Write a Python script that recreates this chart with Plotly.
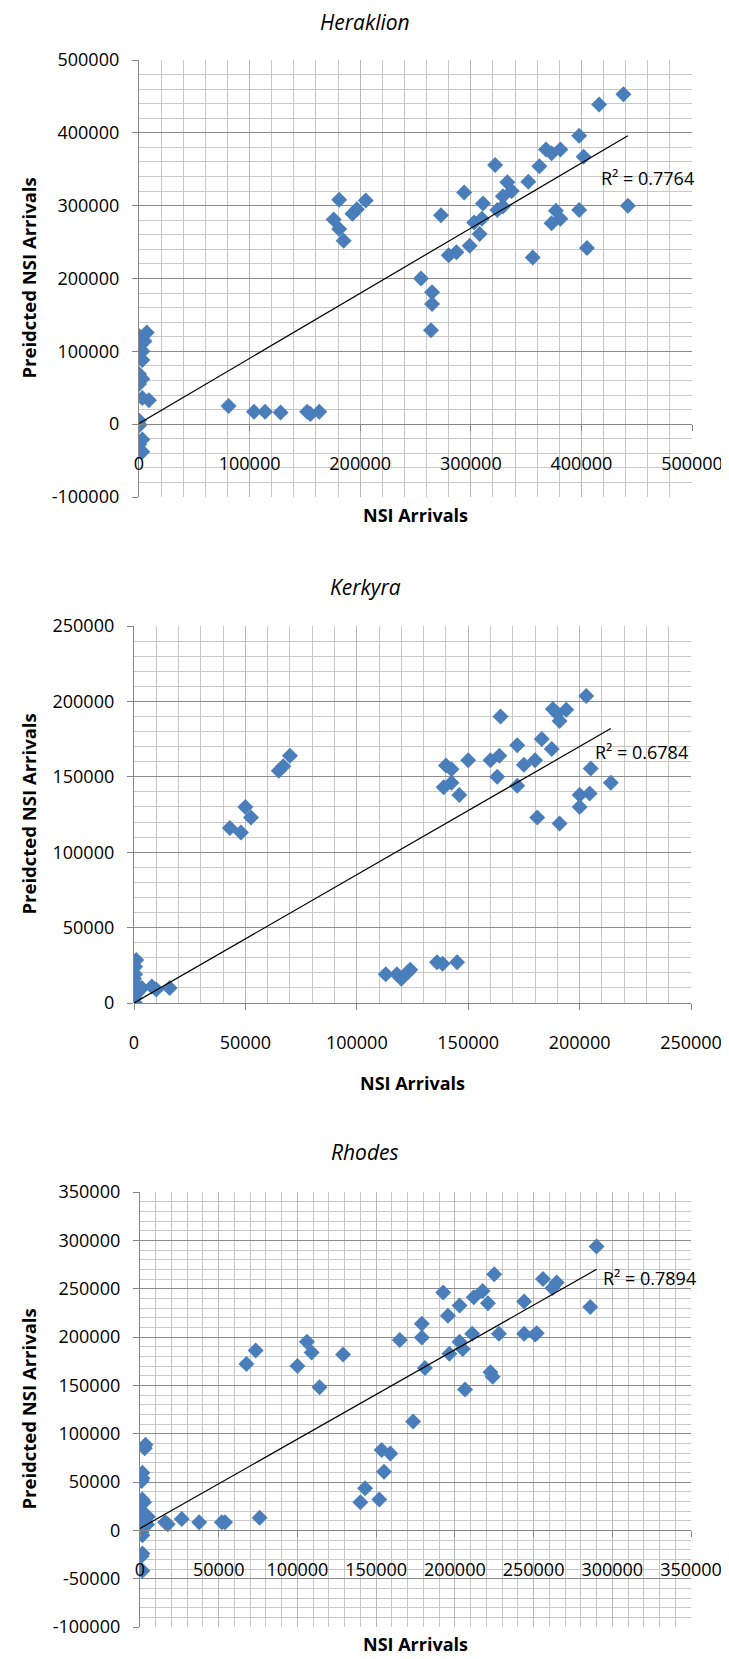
import plotly.graph_objects as go

W, H = 729, 1659
OFF = 8  # the page body adds an 8px offset to the figure

# ---------------- data ----------------
# Heraklion
her_x = [0, 7000, 0, 5000, 3000, 3000, 0, 3000, 0, 3000, 9000, 0, 0, 3000, 0, 3000, 0,
         81000, 104000, 114000, 128000, 152000, 155000, 163000,
         181000, 176000, 181000, 185000, 193000, 197000, 205000,
         255000, 265000, 265000, 264000,
         273000, 280000, 287000, 294000, 299000, 303000, 308000, 310000, 311000, 322000,
         324000, 329000, 329000, 333000, 337000, 352000, 356000, 362000, 368000, 373000,
         373000, 377000, 381000, 381000, 398000, 398000, 402000, 405000, 416000, 438000, 442000]
her_y = [121000, 126000, 116000, 114000, 100000, 88000, 69000, 62000, 55000, 36000, 33000,
         5000, -2000, -21000, -28000, -38000, 0,
         25000, 17000, 17000, 16000, 17000, 14000, 17000,
         308000, 281000, 268000, 252000, 289000, 295000, 307000,
         200000, 181000, 165000, 129000,
         287000, 232000, 236000, 318000, 245000, 277000, 261000, 282000, 303000, 356000,
         294000, 299000, 313000, 332000, 320000, 333000, 229000, 354000, 377000, 372000,
         276000, 293000, 282000, 377000, 396000, 294000, 367000, 242000, 439000, 453000, 300000]
her_trend_x = [0, 442000]
her_trend_y = [1000, 396000]
her_r2 = "R² = 0.7764"

# Kerkyra
ker_x = [1000, 500, 500, 0, 500, 0, 1500, 500, 500, 3500, 8000, 10000, 16000,
         43000, 48000, 50000, 52500, 65000, 67000, 70000,
         113000, 118000, 120000, 123000, 124000, 136000, 138500, 145000,
         139000, 140000, 142500, 142500, 146000, 150000, 160000, 163000, 164000, 164500,
         172000, 172000, 175000, 180000, 181000, 183000, 187500, 188000, 190000, 191000,
         191000, 194000, 200000, 200000, 203000, 204500, 205000, 214000]
ker_y = [28500, 24000, 19000, 16000, 12500, 9000, 7000, 3400, 0, 10000, 11000, 9000, 10000,
         116000, 113000, 130000, 123000, 154000, 157000, 164000,
         19000, 19000, 16000, 20500, 22000, 27000, 26000, 27000,
         143000, 157500, 155000, 146000, 138000, 161000, 161000, 150000, 164000, 190000,
         171000, 144000, 158000, 161000, 123000, 175000, 168500, 195000, 192000, 187000,
         119000, 194500, 130000, 138000, 203500, 139000, 155500, 146000]
ker_trend_x = [0, 214000]
ker_trend_y = [0, 182000]
ker_r2 = "R² = 0.6784"

# Rhodes
rho_x = [3500, 3000, 1500, 1500, 1000, 1500, 2500, 0, 1500, 5000, 0, 4500, 0, 1000, 1500,
         1500, 1000, 1500,
         16000, 17600, 26500, 37600, 52000, 54000, 76000,
         67600, 73500, 100000, 106000, 109000, 114000, 129000,
         140000, 143000, 152000, 153500, 155000, 159000, 173500,
         165000, 179000, 179000, 181000, 192600, 195600, 196500, 203000, 203000, 205000,
         206500, 211000, 212000, 217600, 221000, 222600, 224000, 225000, 228000, 244000,
         244000, 251000, 252000, 256000, 262000, 264700, 286000, 290000]
rho_y = [88600, 85000, 59500, 54000, 51000, 32000, 29000, 22000, 16000, 14000, 10000, 6000,
         3000, -2000, -5000, -24000, -26500, -41700,
         8300, 6400, 11700, 8300, 8300, 8300, 12900,
         172000, 186000, 170000, 195000, 184000, 148000, 182000,
         29000, 43500, 32000, 83000, 60600, 79500, 112500,
         197000, 213600, 199600, 168000, 246000, 222000, 182600, 232600, 195000, 187500,
         145800, 203400, 241000, 247700, 234800, 163600, 159000, 264800, 203400, 236700,
         203400, 202700, 204000, 260000, 250700, 256400, 231000, 293600]
rho_trend_x = [0, 290000]
rho_trend_y = [2000, 270000]
rho_r2 = "R² = 0.7894"

titles = ["Heraklion", "Kerkyra", "Rhodes"]
x_title = "NSI Arrivals"
y_title = "Preidcted NSI Arrivals"

her_xticks = [0, 100000, 200000, 300000, 400000, 500000]
her_yticks = [-100000, 0, 100000, 200000, 300000, 400000, 500000]
ker_xticks = [0, 50000, 100000, 150000, 200000, 250000]
ker_yticks = [0, 50000, 100000, 150000, 200000, 250000]
rho_xticks = [0, 50000, 100000, 150000, 200000, 250000, 300000, 350000]
rho_yticks = [-100000, -50000, 0, 50000, 100000, 150000, 200000, 250000, 300000, 350000]

# ---------------- styling ----------------
MARKER = "#4A7EBB"
YMAJOR = "#8C8C8C"
XMAJOR = "#B8B8B8"
MINOR = "#C8C8C8"
AXIS = "#868686"
FONT = "Open Sans, Noto Sans, Arial, sans-serif"

# plot boxes in screen pixels: left, right, top, bottom
charts = [
    dict(x=her_x, y=her_y, tx=her_trend_x, ty=her_trend_y, r2=her_r2, r2pos=(416000, 338000),
         box=(139, 692, 60, 497), xr=[0, 500000], yr=[-100000, 500000],
         xt=her_xticks, yt=her_yticks, xminor=20000, yminor=20000,
         title_y=22, xtitle_y=515),
    dict(x=ker_x, y=ker_y, tx=ker_trend_x, ty=ker_trend_y, r2=ker_r2, r2pos=(206000, 166700),
         box=(134, 691, 626, 1003), xr=[0, 250000], yr=[0, 250000],
         xt=ker_xticks, yt=ker_yticks, xminor=10000, yminor=10000,
         title_y=587, xtitle_y=1083),
    dict(x=rho_x, y=rho_y, tx=rho_trend_x, ty=rho_trend_y, r2=rho_r2, r2pos=(293000, 261000),
         box=(140, 691, 1192, 1627), xr=[0, 350000], yr=[-100000, 350000],
         xt=rho_xticks, yt=rho_yticks, xminor=10000, yminor=10000,
         title_y=1152, xtitle_y=1644),
]


def px_x(v):
    return (v - OFF) / W


def px_y(v):
    return 1 - (v - OFF) / H


fig = go.Figure()
annotations = []
layout = {}

for i, c in enumerate(charts):
    n = "" if i == 0 else str(i + 1)
    xa, ya = "x" + n, "y" + n
    l, r, t, b = c["box"]
    ydom = [px_y(b), px_y(t)]
    xdom = [px_x(l), px_x(r)]
    y0_px = t + (c["yr"][1] - 0) / (c["yr"][1] - c["yr"][0]) * (b - t)

    fig.add_trace(go.Scatter(x=c["x"], y=c["y"], mode="markers", xaxis=xa, yaxis=ya,
                             marker=dict(symbol="diamond", size=12.3, color=MARKER,
                                         line=dict(width=0)),
                             hoverinfo="x+y"))
    fig.add_trace(go.Scatter(x=c["tx"], y=c["ty"], mode="lines", xaxis=xa, yaxis=ya,
                             line=dict(color="black", width=1.2), hoverinfo="skip"))

    layout["xaxis" + n] = dict(
        domain=xdom, range=c["xr"], anchor="free", position=px_y(y0_px),
        tickmode="array", tickvals=c["xt"], ticktext=[str(v) for v in c["xt"]],
        showgrid=True, gridcolor=XMAJOR, gridwidth=1,
        minor=dict(tickmode="linear", tick0=0, dtick=c["xminor"], showgrid=True,
                   gridcolor=MINOR, gridwidth=1, ticks=""),
        showline=True, linecolor=AXIS, linewidth=1.3,
        ticks="outside", ticklen=6, tickcolor=AXIS, tickwidth=1.3,
        tickfont=dict(size=18, color="black", family=FONT),
        ticklabelstandoff=17, zeroline=False, fixedrange=True, automargin=False,
    )
    layout["yaxis" + n] = dict(
        domain=ydom, range=c["yr"], anchor=xa,
        tickmode="array", tickvals=c["yt"], ticktext=[str(v) for v in c["yt"]],
        showgrid=True, gridcolor=YMAJOR, gridwidth=1,
        minor=dict(tickmode="linear", tick0=0, dtick=c["yminor"], showgrid=True,
                   gridcolor=MINOR, gridwidth=1, ticks=""),
        showline=True, linecolor=AXIS, linewidth=1.3,
        ticks="outside", ticklen=6, tickcolor=AXIS, tickwidth=1.3,
        tickfont=dict(size=18, color="black", family=FONT),
        ticklabelstandoff=9, zeroline=False, fixedrange=True, automargin=False,
    )

    # chart title (centred on the chart area)
    annotations.append(dict(text="<i>" + titles[i] + "</i>", xref="paper", yref="paper",
                            x=px_x(365), y=px_y(c["title_y"]), xanchor="center",
                            yanchor="middle", showarrow=False,
                            font=dict(size=21, family=FONT, color="black")))
    # x axis title
    annotations.append(dict(text="<b>" + x_title + "</b>", xref="paper", yref="paper",
                            x=px_x((l + r) / 2), y=px_y(c["xtitle_y"]),
                            xanchor="center", yanchor="middle", showarrow=False,
                            font=dict(size=18, family=FONT, color="black")))
    # y axis title
    annotations.append(dict(text="<b>" + y_title + "</b>", xref="paper", yref="paper",
                            x=px_x(28), y=px_y((t + b) / 2), textangle=-90,
                            xanchor="center", yanchor="middle", showarrow=False,
                            font=dict(size=18.5, family=FONT, color="black")))
    # R squared label
    annotations.append(dict(text=c["r2"], xref=xa, yref=ya, x=c["r2pos"][0], y=c["r2pos"][1],
                            xanchor="left", yanchor="middle", showarrow=False,
                            font=dict(size=18, family=FONT, color="black")))

fig.update_layout(
    width=W, height=H, margin=dict(l=0, r=0, t=0, b=0, pad=0, autoexpand=False),
    plot_bgcolor="white", paper_bgcolor="white", showlegend=False,
    font=dict(family=FONT, color="black"),
    annotations=annotations, **layout,
)

fig.write_html("out.html")
